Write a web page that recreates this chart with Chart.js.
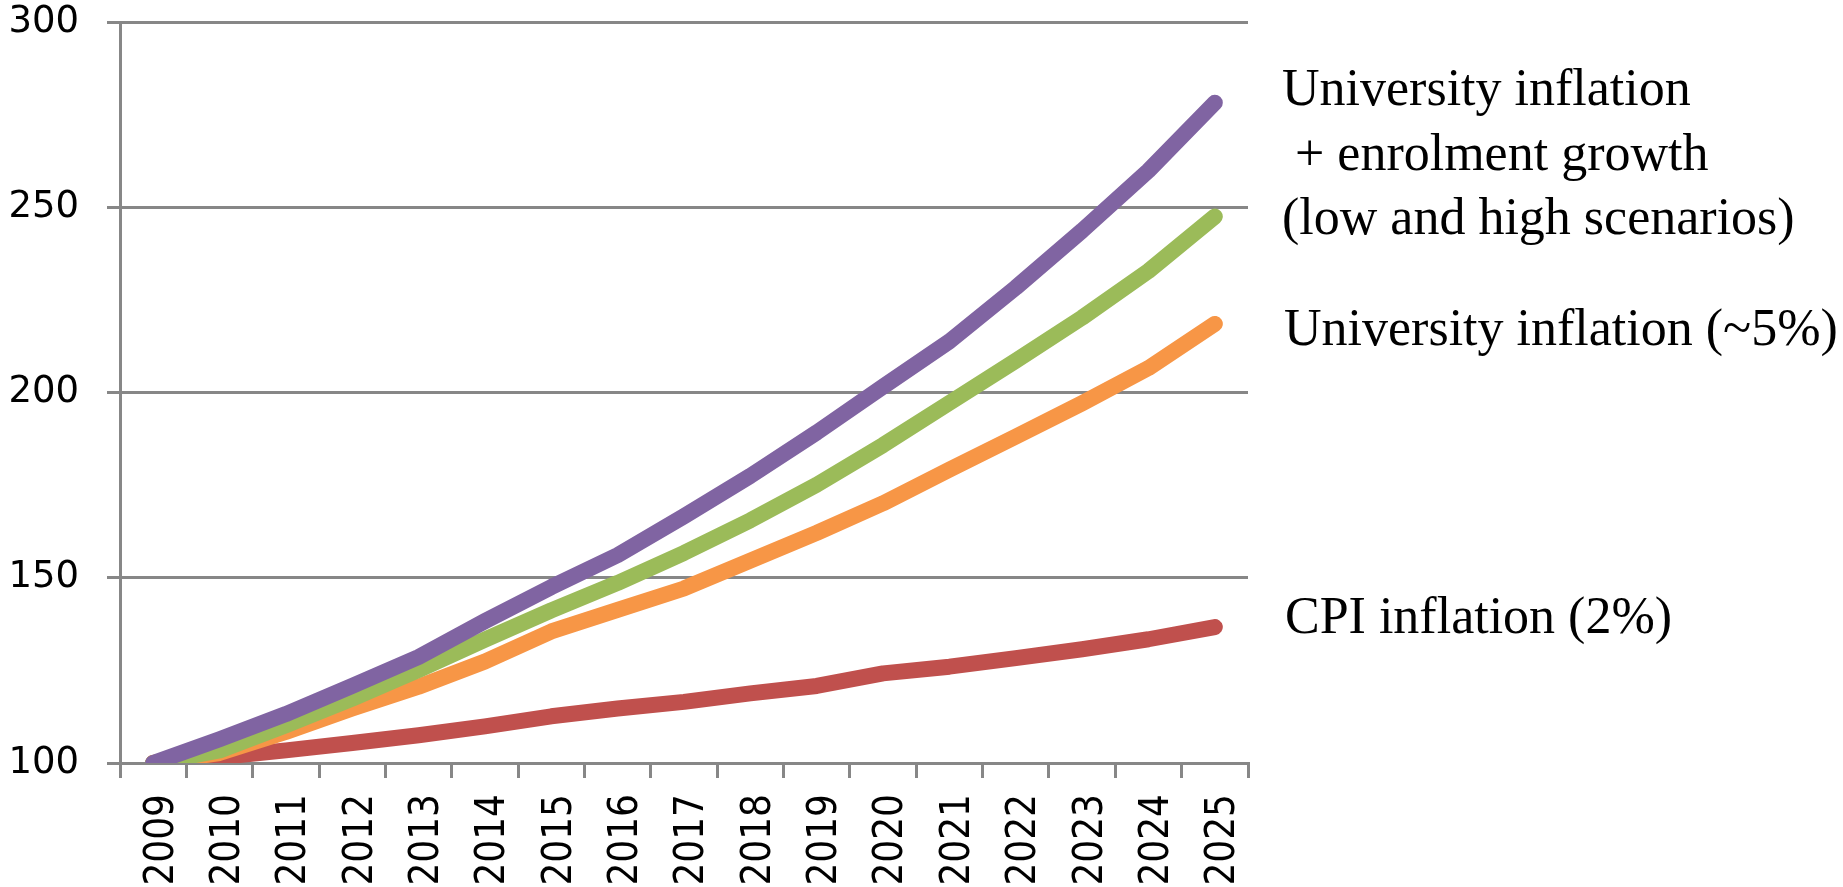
<!DOCTYPE html>
<html>
<head>
<meta charset="utf-8">
<script src="https://cdn.jsdelivr.net/npm/chart.js@4.4.1/dist/chart.umd.min.js"></script>
<style>
  html, body { margin: 0; padding: 0; background: #ffffff; overflow: hidden; }
  #wrap { position: relative; width: 1843px; height: 930px; }
</style>
</head>
<body>
<div id="wrap"><canvas id="chart"></canvas></div>
<script>
// Cost index projections, 2009 = 100
const years = ['2009', '2010', '2011', '2012', '2013', '2014', '2015', '2016', '2017',
               '2018', '2019', '2020', '2021', '2022', '2023', '2024', '2025'];

// University inflation + enrolment growth, high scenario
const uniEnrolHigh = [100, 106.4, 113.2, 120.8, 128.6, 138.3, 147.5, 156.1, 166.6,
                      177.5, 189.2, 201.6, 213.8, 228.3, 243.7, 259.9, 278.2];
// University inflation + enrolment growth, low scenario
const uniEnrolLow = [100, 103.4, 110.2, 117.4, 125.1, 133.3, 141.2, 148.6, 156.7,
                     165.5, 175.1, 185.8, 197.2, 208.6, 220.2, 232.8, 247.5];
// University inflation (~5%)
const uniInflation = [100, 102.7, 108.4, 114.7, 120.6, 127.4, 135.5, 141.3, 147.1,
                      154.6, 162.1, 170.1, 179.2, 188.1, 197.1, 206.6, 218.5];
// CPI inflation (2%)
const cpiInflation = [100, 101.6, 103.4, 105.4, 107.5, 109.9, 112.6, 114.7, 116.5,
                      118.8, 120.8, 124.2, 126.0, 128.3, 130.7, 133.4, 136.7];

const yTicks = [100, 150, 200, 250, 300];

// Text placed beside the line ends
const labelHighLow = ['University inflation', ' + enrolment growth', '(low and high scenarios)'];
const labelUni = ['University inflation (~5%)'];
const labelCpi = ['CPI inflation (2%)'];

const AXIS_GREY = '#878787';

const sideLabels = {
  id: 'sideLabels',
  afterDraw(chart) {
    const ctx = chart.ctx;
    ctx.save();
    ctx.fillStyle = '#000000';
    ctx.font = '52px "Liberation Serif", "Times New Roman", serif';
    ctx.textAlign = 'left';
    ctx.textBaseline = 'alphabetic';
    const blocks = [
      { lines: labelHighLow, x: 1282, y: 105 },
      { lines: labelUni, x: 1284, y: 345 },
      { lines: labelCpi, x: 1285, y: 633 }
    ];
    const lineGap = 64.6;
    blocks.forEach(b => {
      b.lines.forEach((t, i) => ctx.fillText(t, b.x, b.y + i * lineGap));
    });
    ctx.restore();
  }
};

const common = {
  borderWidth: 16,
  pointRadius: 0,
  pointHoverRadius: 0,
  tension: 0,
  borderCapStyle: 'round',
  borderJoinStyle: 'round',
  fill: false
};

new Chart(document.getElementById('chart'), {
  type: 'line',
  data: {
    labels: years,
    datasets: [
      Object.assign({ label: 'University inflation + enrolment growth (high)', data: uniEnrolHigh, borderColor: '#8064A2' }, common),
      Object.assign({ label: 'University inflation + enrolment growth (low)', data: uniEnrolLow, borderColor: '#9BBB59' }, common),
      Object.assign({ label: 'University inflation (~5%)', data: uniInflation, borderColor: '#F79646' }, common),
      Object.assign({ label: 'CPI inflation (2%)', data: cpiInflation, borderColor: '#C0504D' }, common)
    ]
  },
  options: {
    responsive: true,
    maintainAspectRatio: false,
    animation: false,
    events: [],
    layout: { padding: { left: 0, right: 595, top: 22, bottom: 0 } },
    plugins: {
      legend: { display: false },
      tooltip: { enabled: false },
      title: { display: false }
    },
    scales: {
      x: {
        type: 'category',
        offset: true,
        grid: {
          offset: true,
          drawOnChartArea: false,
          drawTicks: true,
          tickLength: 15,
          color: AXIS_GREY,
          lineWidth: 3
        },
        border: { display: true, color: AXIS_GREY, width: 3 },
        ticks: {
          autoSkip: false,
          maxRotation: 90,
          minRotation: 90,
          padding: 16,
          labelOffset: 9,
          color: '#000000',
          font: { family: '"DejaVu Sans Condensed", "DejaVu Sans", sans-serif', size: 40 }
        },
        afterFit(scale) {
          scale.height = 167;
          scale.paddingLeft = 0;
          scale.paddingRight = 0;
        }
      },
      y: {
        min: 100,
        max: 300,
        afterBuildTicks(scale) { scale.ticks = yTicks.map(v => ({ value: v })); },
        grid: {
          drawTicks: true,
          tickLength: 13,
          color: AXIS_GREY,
          lineWidth: 3
        },
        border: { display: true, color: AXIS_GREY, width: 3 },
        ticks: {
          padding: 28,
          color: '#000000',
          font: { family: '"DejaVu Sans", Verdana, sans-serif', size: 37 }
        },
        afterFit(scale) {
          scale.width = 120;
          scale.paddingTop = 0;
          scale.paddingBottom = 0;
        }
      }
    }
  },
  plugins: [sideLabels]
});
</script>
</body>
</html>
